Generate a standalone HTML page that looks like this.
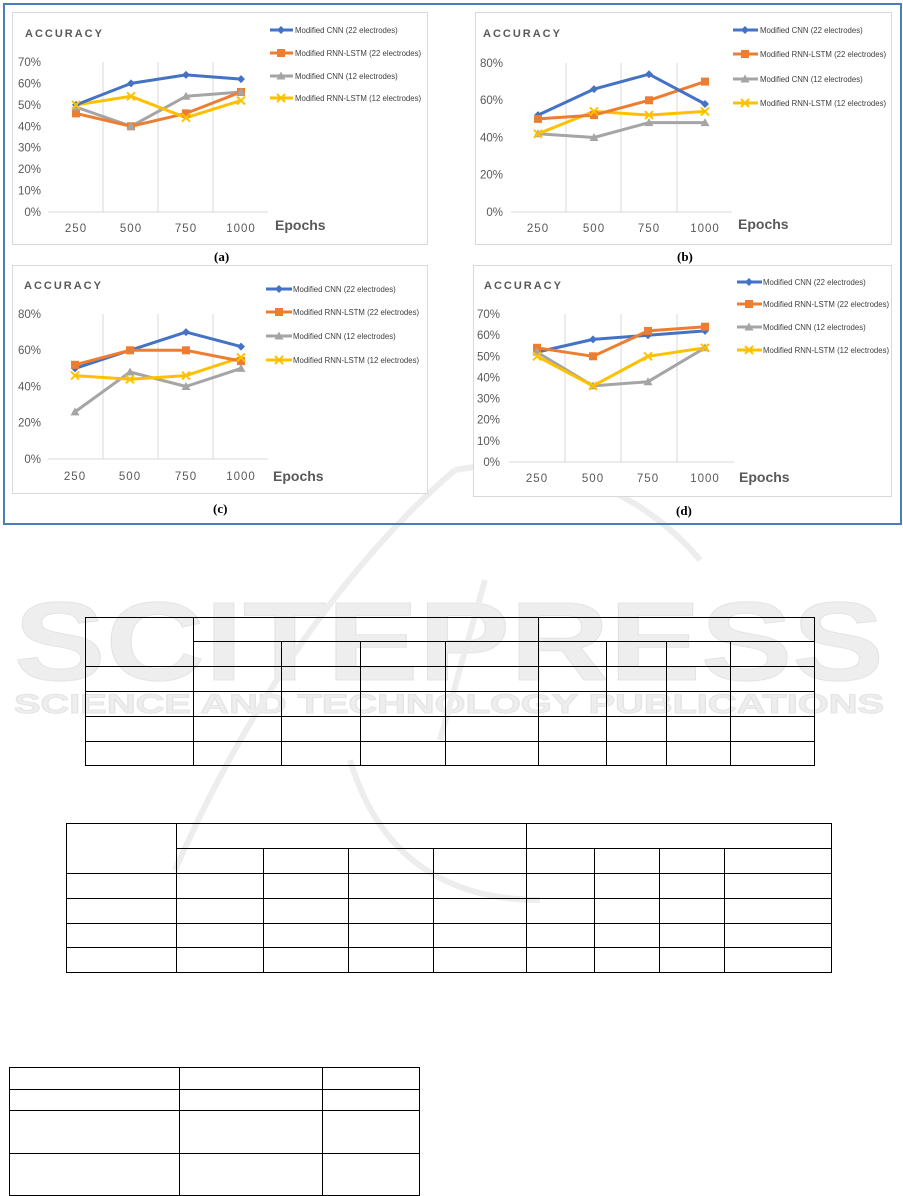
<!DOCTYPE html>
<html><head><meta charset="utf-8"><style>
html,body{margin:0;padding:0;background:#fff;}
svg{display:block;font-family:"Liberation Sans",sans-serif;}
.t{fill:#595959;font-size:11.5px;}
.lg{fill:#404040;font-size:7.8px;}
.ac{fill:#595959;font-size:11px;font-weight:bold;letter-spacing:2px;}
.ep{fill:#595959;font-size:14px;font-weight:bold;}
.cap{font-family:"Liberation Serif",serif;font-size:13px;font-weight:bold;fill:#000;}
.g{stroke:#d9d9d9;stroke-width:1;}
.b{stroke:#4472c4;}.o{stroke:#ed7d31;}.y{stroke:#a5a5a5;}.w{stroke:#ffc000;}
polyline{fill:none;stroke-width:3;stroke-linejoin:round;}
.tb line{stroke:#000;stroke-width:1;}
</style></head><body>
<svg width="903" height="1196" viewBox="0 0 903 1196">
<!-- watermark -->
<g fill="#eeeeee" stroke="#e4e4e4" stroke-width="1">
<text x="14" y="680" font-size="112" font-weight="bold" textLength="870" lengthAdjust="spacingAndGlyphs">SCITEPRESS</text>
<text x="14" y="713" font-size="27" font-weight="bold" textLength="870" lengthAdjust="spacingAndGlyphs">SCIENCE AND TECHNOLOGY PUBLICATIONS</text>
</g>
<g fill="none" stroke="#ededed" stroke-width="6">
<path d="M175 870 C250 700 350 560 455 470"/>
<path d="M455 470 C560 450 650 500 700 560"/>
<path d="M485 580 L440 740"/>
<path d="M350 760 C380 860 450 900 540 900"/>
</g>
<!-- outer border -->
<rect x="4" y="4" width="897" height="520" fill="none" stroke="#4a7ebb" stroke-width="2"/>
<!-- panels -->
<rect x="12.5" y="12.5" width="415" height="232" fill="#fff" stroke="#d9d9d9"/>
<rect x="475.5" y="12.5" width="416" height="232" fill="#fff" stroke="#d9d9d9"/>
<rect x="12.5" y="265.5" width="415" height="228" fill="#fff" stroke="#d9d9d9"/>
<rect x="473.5" y="265.5" width="418" height="231" fill="#fff" stroke="#d9d9d9"/>

<!-- ===== (a) ===== -->
<text class="ac" x="25" y="37">ACCURACY</text>
<g class="g"><line x1="103" y1="62" x2="103" y2="212"/><line x1="158" y1="62" x2="158" y2="212"/><line x1="213" y1="62" x2="213" y2="212"/><line x1="48" y1="212" x2="268" y2="212"/></g>
<g class="t" text-anchor="end"><text x="41" y="216">0%</text><text x="41" y="194.6">10%</text><text x="41" y="173.1">20%</text><text x="41" y="151.7">30%</text><text x="41" y="130.3">40%</text><text x="41" y="108.9">50%</text><text x="41" y="87.4">60%</text><text x="41" y="66">70%</text></g>
<g class="t" text-anchor="middle" style="letter-spacing:1px"><text x="76" y="232">250</text><text x="131" y="232">500</text><text x="186" y="232">750</text><text x="241" y="232">1000</text></g>
<text class="ep" x="275" y="230">Epochs</text>
<polyline class="y" points="76,107 131,126.3 186,96.3 241,92"/>
<polyline class="o" points="76,113.4 131,126.3 186,113.4 241,92"/>
<polyline class="w" points="76,104.9 131,96.3 186,117.7 241,100.6"/>
<polyline class="b" points="76,104.9 131,83.4 186,74.9 241,79.1"/>

<!-- ===== (b) ===== -->
<text class="ac" x="483" y="37">ACCURACY</text>
<g class="g"><line x1="566" y1="63" x2="566" y2="212"/><line x1="621" y1="63" x2="621" y2="212"/><line x1="677" y1="63" x2="677" y2="212"/><line x1="511" y1="212" x2="732" y2="212"/></g>
<g class="t" text-anchor="end"><text x="503" y="216">0%</text><text x="503" y="178.7">20%</text><text x="503" y="141.5">40%</text><text x="503" y="104.2">60%</text><text x="503" y="67">80%</text></g>
<g class="t" text-anchor="middle" style="letter-spacing:1px"><text x="538" y="232">250</text><text x="594" y="232">500</text><text x="649" y="232">750</text><text x="705" y="232">1000</text></g>
<text class="ep" x="738" y="229">Epochs</text>
<polyline class="y" points="538,133.8 594,137.5 649,122.6 705,122.6"/>
<polyline class="w" points="538,133.8 594,111.4 649,115.1 705,111.4"/>
<polyline class="o" points="538,118.9 594,115.1 649,100.3 705,81.6"/>
<polyline class="b" points="538,115.1 594,89.1 649,74.2 705,104"/>

<!-- ===== (c) ===== -->
<text class="ac" x="24" y="289">ACCURACY</text>
<g class="g"><line x1="103" y1="314" x2="103" y2="459"/><line x1="158" y1="314" x2="158" y2="459"/><line x1="213" y1="314" x2="213" y2="459"/><line x1="48" y1="459" x2="268" y2="459"/></g>
<g class="t" text-anchor="end"><text x="41" y="463">0%</text><text x="41" y="426.7">20%</text><text x="41" y="390.5">40%</text><text x="41" y="354.2">60%</text><text x="41" y="318">80%</text></g>
<g class="t" text-anchor="middle" style="letter-spacing:1px"><text x="75" y="480">250</text><text x="130" y="480">500</text><text x="186" y="480">750</text><text x="241" y="480">1000</text></g>
<text class="ep" x="273" y="481">Epochs</text>
<polyline class="y" points="75,411.9 130,372 186,386.5 241,368.4"/>
<polyline class="w" points="75,375.6 130,379.3 186,375.6 241,357.5"/>
<polyline class="b" points="75,368.4 130,350.3 186,332.1 241,346.6"/>
<polyline class="o" points="75,364.8 130,350.3 186,350.3 241,361.1"/>

<!-- ===== (d) ===== -->
<text class="ac" x="484" y="289">ACCURACY</text>
<g class="g"><line x1="565" y1="314" x2="565" y2="462"/><line x1="621" y1="314" x2="621" y2="462"/><line x1="677" y1="314" x2="677" y2="462"/><line x1="509" y1="462" x2="734" y2="462"/></g>
<g class="t" text-anchor="end"><text x="500" y="466">0%</text><text x="500" y="444.9">10%</text><text x="500" y="423.7">20%</text><text x="500" y="402.6">30%</text><text x="500" y="381.4">40%</text><text x="500" y="360.3">50%</text><text x="500" y="339.1">60%</text><text x="500" y="318">70%</text></g>
<g class="t" text-anchor="middle" style="letter-spacing:1px"><text x="537" y="482">250</text><text x="593" y="482">500</text><text x="648" y="482">750</text><text x="705" y="482">1000</text></g>
<text class="ep" x="739" y="482">Epochs</text>
<polyline class="y" points="537,352.1 593,385.9 648,381.7 705,347.8"/>
<polyline class="w" points="537,356.3 593,385.9 648,356.3 705,347.8"/>
<polyline class="b" points="537,352.1 593,339.4 648,335.2 705,330.9"/>
<polyline class="o" points="537,347.8 593,356.3 648,330.9 705,326.7"/>

<defs>
<path id="dia" d="M0,-4 L4,0 L0,4 L-4,0Z" fill="#4472c4"/>
<rect id="sq" x="-4" y="-4" width="8" height="8" fill="#ed7d31"/>
<path id="tri" d="M0,-4.5 L4.5,3.5 L-4.5,3.5Z" fill="#a5a5a5"/>
<path id="xx" d="M-4,-4 L4,4 M4,-4 L-4,4" stroke="#ffc000" stroke-width="2"/>
</defs>
<g>
<use href="#dia" x="76" y="104.9"/><use href="#dia" x="131" y="83.4"/><use href="#dia" x="186" y="74.9"/><use href="#dia" x="241" y="79.1"/>
<use href="#sq" x="76" y="113.4"/><use href="#sq" x="131" y="126.3"/><use href="#sq" x="186" y="113.4"/><use href="#sq" x="241" y="92"/>
<use href="#tri" x="76" y="107"/><use href="#tri" x="131" y="126.3"/><use href="#tri" x="186" y="96.3"/><use href="#tri" x="241" y="92"/>
<use href="#xx" x="76" y="104.9"/><use href="#xx" x="131" y="96.3"/><use href="#xx" x="186" y="117.7"/><use href="#xx" x="241" y="100.6"/>

<use href="#dia" x="538" y="115.1"/><use href="#dia" x="594" y="89.1"/><use href="#dia" x="649" y="74.2"/><use href="#dia" x="705" y="104"/>
<use href="#sq" x="538" y="118.9"/><use href="#sq" x="594" y="115.1"/><use href="#sq" x="649" y="100.3"/><use href="#sq" x="705" y="81.6"/>
<use href="#tri" x="538" y="133.8"/><use href="#tri" x="594" y="137.5"/><use href="#tri" x="649" y="122.6"/><use href="#tri" x="705" y="122.6"/>
<use href="#xx" x="538" y="133.8"/><use href="#xx" x="594" y="111.4"/><use href="#xx" x="649" y="115.1"/><use href="#xx" x="705" y="111.4"/>

<use href="#dia" x="75" y="368.4"/><use href="#dia" x="130" y="350.3"/><use href="#dia" x="186" y="332.1"/><use href="#dia" x="241" y="346.6"/>
<use href="#sq" x="75" y="364.8"/><use href="#sq" x="130" y="350.3"/><use href="#sq" x="186" y="350.3"/><use href="#sq" x="241" y="361.1"/>
<use href="#tri" x="75" y="411.9"/><use href="#tri" x="130" y="372"/><use href="#tri" x="186" y="386.5"/><use href="#tri" x="241" y="368.4"/>
<use href="#xx" x="75" y="375.6"/><use href="#xx" x="130" y="379.3"/><use href="#xx" x="186" y="375.6"/><use href="#xx" x="241" y="357.5"/>

<use href="#dia" x="537" y="352.1"/><use href="#dia" x="593" y="339.4"/><use href="#dia" x="648" y="335.2"/><use href="#dia" x="705" y="330.9"/>
<use href="#sq" x="537" y="347.8"/><use href="#sq" x="593" y="356.3"/><use href="#sq" x="648" y="330.9"/><use href="#sq" x="705" y="326.7"/>
<use href="#tri" x="537" y="352.1"/><use href="#tri" x="593" y="385.9"/><use href="#tri" x="648" y="381.7"/><use href="#tri" x="705" y="347.8"/>
<use href="#xx" x="537" y="356.3"/><use href="#xx" x="593" y="385.9"/><use href="#xx" x="648" y="356.3"/><use href="#xx" x="705" y="347.8"/>
</g>

<!-- legends -->
<g stroke-width="3">
<line x1="270" y1="30" x2="293" y2="30" class="b"/><line x1="270" y1="53" x2="293" y2="53" class="o"/><line x1="270" y1="76" x2="293" y2="76" class="y"/><line x1="270" y1="98" x2="293" y2="98" class="w"/>
<line x1="733" y1="30" x2="758" y2="30" class="b"/><line x1="733" y1="54" x2="758" y2="54" class="o"/><line x1="733" y1="79" x2="758" y2="79" class="y"/><line x1="733" y1="103" x2="758" y2="103" class="w"/>
<line x1="266" y1="289" x2="292" y2="289" class="b"/><line x1="266" y1="312" x2="292" y2="312" class="o"/><line x1="266" y1="336" x2="292" y2="336" class="y"/><line x1="266" y1="360" x2="292" y2="360" class="w"/>
<line x1="737" y1="282" x2="762" y2="282" class="b"/><line x1="737" y1="304" x2="762" y2="304" class="o"/><line x1="737" y1="327" x2="762" y2="327" class="y"/><line x1="737" y1="350" x2="762" y2="350" class="w"/>
</g>
<use href="#dia" x="281" y="30"/><use href="#sq" x="281" y="53"/><use href="#tri" x="281" y="76"/><use href="#xx" x="281" y="98"/>
<use href="#dia" x="745" y="30"/><use href="#sq" x="745" y="54"/><use href="#tri" x="745" y="79"/><use href="#xx" x="745" y="103"/>
<use href="#dia" x="279" y="289"/><use href="#sq" x="279" y="312"/><use href="#tri" x="279" y="336"/><use href="#xx" x="279" y="360"/>
<use href="#dia" x="749" y="282"/><use href="#sq" x="749" y="304"/><use href="#tri" x="749" y="327"/><use href="#xx" x="749" y="350"/>
<g class="lg">
<text x="295" y="33">Modified CNN (22 electrodes)</text><text x="295" y="56">Modified RNN-LSTM (22 electrodes)</text><text x="295" y="79">Modified CNN (12 electrodes)</text><text x="295" y="101">Modified RNN-LSTM (12 electrodes)</text>
<text x="760" y="33">Modified CNN (22 electrodes)</text><text x="760" y="57">Modified RNN-LSTM (22 electrodes)</text><text x="760" y="82">Modified CNN (12 electrodes)</text><text x="760" y="106">Modified RNN-LSTM (12 electrodes)</text>
<text x="293" y="292">Modified CNN (22 electrodes)</text><text x="293" y="315">Modified RNN-LSTM (22 electrodes)</text><text x="293" y="339">Modified CNN (12 electrodes)</text><text x="293" y="363">Modified RNN-LSTM (12 electrodes)</text>
<text x="763" y="285">Modified CNN (22 electrodes)</text><text x="763" y="307">Modified RNN-LSTM (22 electrodes)</text><text x="763" y="330">Modified CNN (12 electrodes)</text><text x="763" y="353">Modified RNN-LSTM (12 electrodes)</text>
</g>
<text class="cap" x="214" y="261">(a)</text>
<text class="cap" x="677" y="261">(b)</text>
<text class="cap" x="213" y="513">(c)</text>
<text class="cap" x="676" y="515">(d)</text>

<!-- table 1 -->
<g class="tb">
<line x1="85" y1="617.5" x2="815" y2="617.5"/><line x1="193" y1="641.5" x2="815" y2="641.5"/>
<line x1="85" y1="666.5" x2="815" y2="666.5"/><line x1="85" y1="691.5" x2="815" y2="691.5"/><line x1="85" y1="716.5" x2="815" y2="716.5"/><line x1="85" y1="741.5" x2="815" y2="741.5"/><line x1="85" y1="765.5" x2="815" y2="765.5"/>
<line x1="85.5" y1="617" x2="85.5" y2="766"/><line x1="193.5" y1="617" x2="193.5" y2="766"/><line x1="538.5" y1="617" x2="538.5" y2="766"/><line x1="814.5" y1="617" x2="814.5" y2="766"/>
<line x1="281.5" y1="641" x2="281.5" y2="766"/><line x1="360.5" y1="641" x2="360.5" y2="766"/><line x1="445.5" y1="641" x2="445.5" y2="766"/><line x1="606.5" y1="641" x2="606.5" y2="766"/><line x1="666.5" y1="641" x2="666.5" y2="766"/><line x1="730.5" y1="641" x2="730.5" y2="766"/>
</g>
<!-- table 2 -->
<g class="tb">
<line x1="66" y1="823.5" x2="832" y2="823.5"/><line x1="176" y1="848.5" x2="832" y2="848.5"/>
<line x1="66" y1="873.5" x2="832" y2="873.5"/><line x1="66" y1="898.5" x2="832" y2="898.5"/><line x1="66" y1="923.5" x2="832" y2="923.5"/><line x1="66" y1="947.5" x2="832" y2="947.5"/><line x1="66" y1="972.5" x2="832" y2="972.5"/>
<line x1="66.5" y1="823" x2="66.5" y2="973"/><line x1="176.5" y1="823" x2="176.5" y2="973"/><line x1="526.5" y1="823" x2="526.5" y2="973"/><line x1="831.5" y1="823" x2="831.5" y2="973"/>
<line x1="263.5" y1="848" x2="263.5" y2="973"/><line x1="348.5" y1="848" x2="348.5" y2="973"/><line x1="433.5" y1="848" x2="433.5" y2="973"/><line x1="594.5" y1="848" x2="594.5" y2="973"/><line x1="659.5" y1="848" x2="659.5" y2="973"/><line x1="724.5" y1="848" x2="724.5" y2="973"/>
</g>
<!-- table 3 -->
<g class="tb">
<line x1="9" y1="1067.5" x2="420" y2="1067.5"/><line x1="9" y1="1089.5" x2="420" y2="1089.5"/><line x1="9" y1="1110.5" x2="420" y2="1110.5"/><line x1="9" y1="1153.5" x2="420" y2="1153.5"/><line x1="9" y1="1195.5" x2="420" y2="1195.5"/>
<line x1="9.5" y1="1067" x2="9.5" y2="1196"/><line x1="179.5" y1="1067" x2="179.5" y2="1196"/><line x1="322.5" y1="1067" x2="322.5" y2="1196"/><line x1="419.5" y1="1067" x2="419.5" y2="1196"/>
</g>
</svg>
</body></html>
